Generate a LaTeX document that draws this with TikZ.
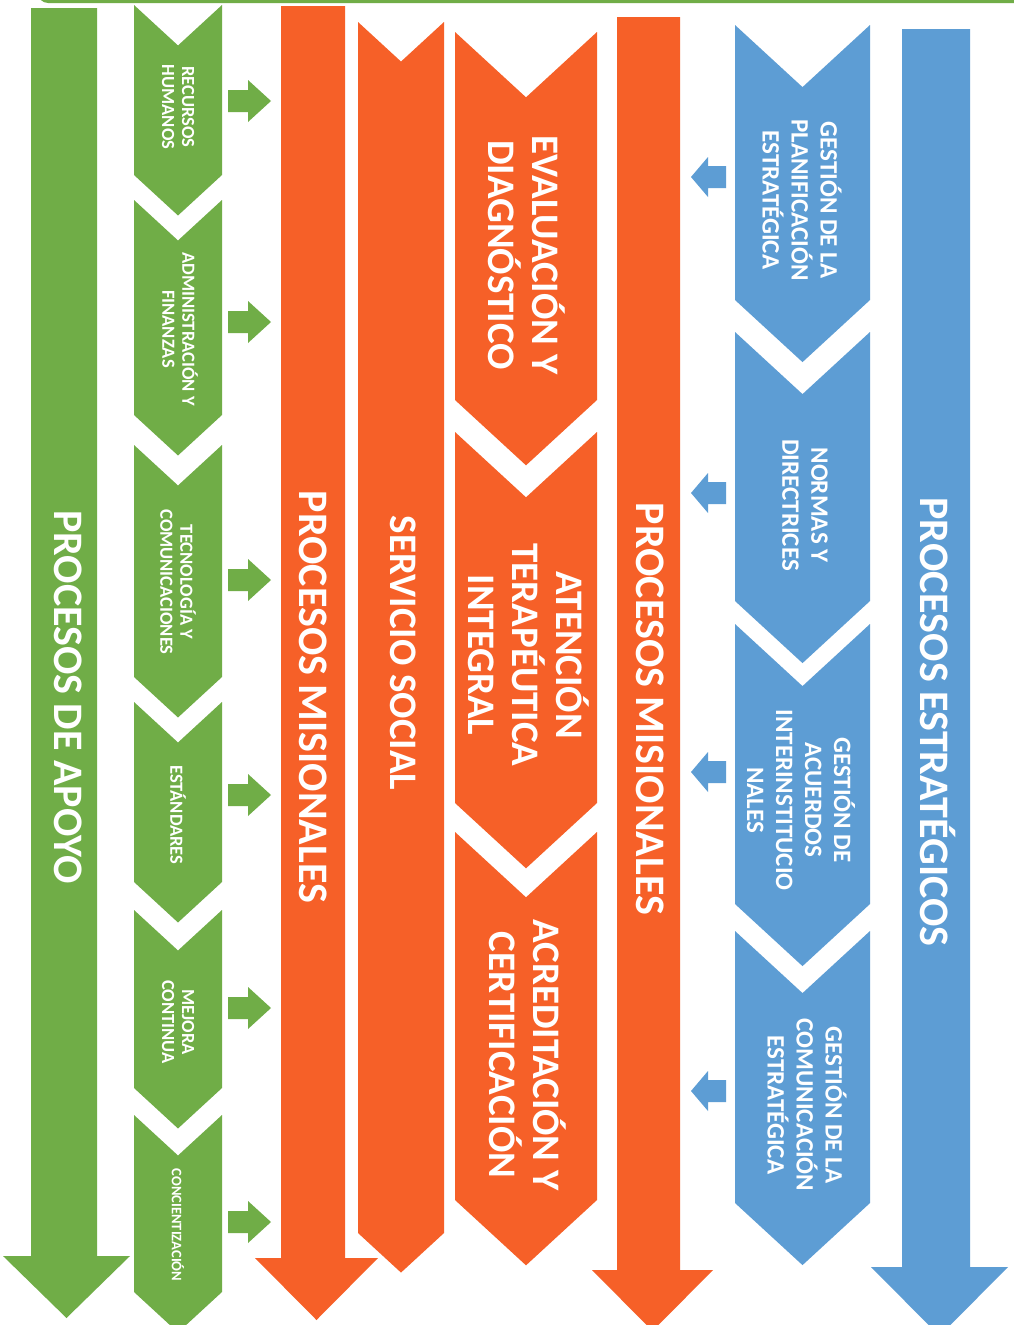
\documentclass[tikz,border=0pt]{standalone}
\usepackage{fontspec}
\setmainfont{Carlito}
\usetikzlibrary{calc}

\definecolor{apoyo}{RGB}{112,173,71}
\definecolor{mision}{RGB}{246,96,40}
\definecolor{estrat}{RGB}{93,157,212}

% chevron band: colour, left, right, top, bottom (pixel units, y down)
\newcommand{\chev}[5]{%
  \pgfmathsetmacro\chmid{(#2+#3)/2}%
  \pgfmathsetmacro\chdep{(#3-#2)*0.46}%
  \fill[#1] (#2,#4) -- (\chmid,#4+\chdep) -- (#3,#4) -- (#3,#5)
    -- (\chmid,#5+\chdep) -- (#2,#5) -- cycle;}
% big arrow: colour, shaft left, shaft right, top, head base, head left, head right, tip
\newcommand{\bigarr}[8]{%
  \fill[#1] (#2,#4) -- (#3,#4) -- (#3,#5) -- (#7,#5) -- ({(#6+#7)/2},#8)
    -- (#6,#5) -- (#2,#5) -- cycle;}
% small block arrows between the columns
\newcommand{\rarr}[1]{\fill[apoyo] (228,#1-11) -- (248,#1-11) -- (248,#1-21)
  -- (271,#1) -- (248,#1+21) -- (248,#1+11) -- (228,#1+11) -- cycle;}
\newcommand{\larr}[1]{\fill[estrat] (726,#1-11) -- (708,#1-11) -- (708,#1-20)
  -- (691,#1) -- (708,#1+20) -- (708,#1+11) -- (726,#1+11) -- cycle;}

\begin{document}
\begin{tikzpicture}[%
    x=1pt, y=-1pt,              % one unit per pixel, y going down
    ]
% -------------------------------------------------
% Label styles, all text runs top-to-bottom
\tikzset{
  lab/.style={text=white, rotate=-90, align=center, inner sep=0pt},
  big/.style={lab, font=\bfseries\fontsize{42}{47}\selectfont},
  mid/.style={lab, font=\bfseries\fontsize{39}{44}\selectfont},
  blu/.style={lab, font=\bfseries\fontsize{25}{29}\selectfont},
  grn/.style={lab, font=\bfseries\fontsize{18.5}{20}\selectfont}
}
\useasboundingbox[fill=white] (0,0) rectangle (1014,1325);
% top strip
\fill[apoyo, rounded corners=10pt] (38,-25) rectangle (1045,3);
% -------------------------------------------------
% The long arrows
\bigarr{apoyo}{31}{97}{8}{1256}{3}{130}{1318}
\bigarr{mision}{281}{345}{6}{1258}{255}{378}{1320}
\bigarr{mision}{617}{680}{17}{1270}{592}{713}{1331}
\bigarr{estrat}{902}{970}{29}{1267}{871}{1008}{1336}
% -------------------------------------------------
% Chevron columns
\chev{apoyo}{134}{222}{5}{175}
\chev{apoyo}{134}{222}{200}{415}
\chev{apoyo}{134}{222}{445}{677}
\chev{apoyo}{134}{222}{702}{882}
\chev{apoyo}{134}{222}{910}{1088}
\chev{apoyo}{134}{222}{1115}{1292}
\chev{mision}{358}{444}{22}{1233}
\chev{mision}{455}{597}{32}{400}
\chev{mision}{455}{597}{432}{803}
\chev{mision}{455}{597}{832}{1200}
\chev{estrat}{735}{870}{25}{300}
\chev{estrat}{735}{870}{332}{601}
\chev{estrat}{735}{870}{624}{904}
\chev{estrat}{735}{870}{931}{1203}
% -------------------------------------------------
% Small arrows
\foreach \y in {101,322,580,795,1008,1222} {\rarr{\y}}
\foreach \y in {177,493,772,1091} {\larr{\y}}
% -------------------------------------------------
% Labels
\node[big] (apoyo) at (68,697) {PROCESOS DE APOYO};
\node[big] (misL) at (313,697) {PROCESOS MISIONALES};
\node[mid] (social) at (403,653) {SERVICIO SOCIAL};
\node[big] (misR) at (650,709) {PROCESOS MISIONALES};
\node[big] (estr) at (938,722) {PROCESOS ESTRATÉGICOS};

\node[grn] (rrhh) at (178,107) {RECURSOS\\HUMANOS};
\node[grn] (admin) at (180,329) {ADMINISTRACIÓN Y\\FINANZAS};
\node[grn] (tic) at (178,582) {TECNOLOGÍA Y\\COMUNICACIONES};
\node[grn] (std) at (178,815) {ESTÁNDARES};
\node[grn] (mejora) at (178,1022) {MEJORA\\CONTINUA};
\node[grn, font=\bfseries\fontsize{14.5}{16}\selectfont] (conc) at (178,1225)
  {CONCIENTIZACIÓN};

\node[mid] (eval) at (527,255) {EVALUACIÓN Y\\DIAGNÓSTICO};
\node[mid] (aten) at (529,655) {ATENCIÓN\\TERAPÉUTICA\\INTEGRAL};
\node[mid] (acre) at (528,1055) {ACREDITACIÓN Y\\CERTIFICACIÓN};

\node[blu] (plan) at (802,200) {GESTIÓN DE LA\\PLANIFICACIÓN\\ESTRATÉGICA};
\node[blu] (norm) at (805,505) {NORMAS Y\\DIRECTRICES};
\node[blu] (acue) at (801,800) {GESTIÓN DE\\ACUERDOS\\INTERINSTITUCIO\\NALES};
\node[blu] (comu) at (807,1105) {GESTIÓN DE LA\\COMUNICACIÓN\\ESTRATÉGICA};
% -------------------------------------------------
\end{tikzpicture}
\end{document}
